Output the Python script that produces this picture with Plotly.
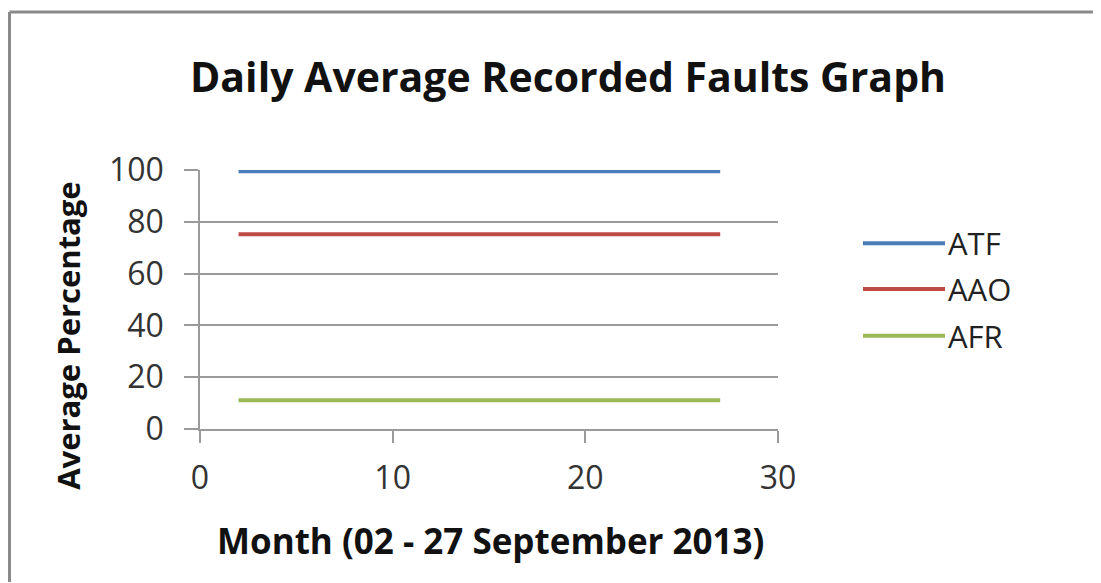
import plotly.graph_objects as go

# ---- data ----
days = [2, 27]
series_names = ["ATF", "AAO", "AFR"]
atf = [99.5, 99.5]
aao = [75.2, 75.2]
afr = [11.1, 11.1]
colors = ["#4A7EBB", "#BE4B48", "#98B954"]
x_ticks = [0, 10, 20, 30]
y_ticks = [0, 20, 40, 60, 80, 100]

# page body has an 8px margin; work in page pixels and subtract it
OX, OY = 8, 8
W, H = 1101 - OX, 583 - OY
L, R, T, B = 200 - OX, 778 - OX, 169.5 - OY, 429.5 - OY  # plot area (figure px)

fig = go.Figure()
for name, vals, c in zip(series_names, [atf, aao, afr], colors):
    fig.add_trace(go.Scatter(x=days, y=vals, mode="lines", name=name,
                             line=dict(color=c, width=4), showlegend=False))

def pxx(px):  # page px -> paper x
    return (px - OX - L) / (R - L)

def pxy(py):  # page px -> paper y
    return (B - (py - OY)) / (B - T)

shapes = []
# image frame (top and left edges)
shapes.append(dict(type="line", xref="paper", yref="paper",
                   x0=pxx(9.5), x1=pxx(1101), y0=pxy(11), y1=pxy(11),
                   line=dict(color="#8a8a8a", width=3)))
shapes.append(dict(type="line", xref="paper", yref="paper",
                   x0=pxx(9.5), x1=pxx(9.5), y0=pxy(11), y1=pxy(583),
                   line=dict(color="#8a8a8a", width=3)))

annotations = []
leg_y = [243, 289, 336]
for name, c, py in zip(series_names, colors, leg_y):
    shapes.append(dict(type="line", xref="paper", yref="paper",
                       x0=pxx(863), x1=pxx(945), y0=pxy(py), y1=pxy(py),
                       line=dict(color=c, width=4)))
    annotations.append(dict(xref="paper", yref="paper", x=pxx(946), y=pxy(py),
                            text=name, showarrow=False, xanchor="left", yanchor="middle",
                            font=dict(family="Open Sans", size=31, color="#222222")))

annotations.append(dict(xref="paper", yref="paper", x=pxx(68), y=pxy(336),
                        text="<b>Average Percentage</b>", textangle=-90, showarrow=False,
                        xanchor="center", yanchor="middle",
                        font=dict(family="Open Sans", size=31, color="#111111")))
annotations.append(dict(xref="paper", yref="paper", x=pxx(490), y=pxy(541),
                        text="<b>Month (02 - 27 September 2013)</b>", showarrow=False,
                        xanchor="center", yanchor="middle",
                        font=dict(family="Open Sans", size=35, color="#111111")))
annotations.append(dict(xref="paper", yref="paper", x=pxx(568), y=pxy(75),
                        text="<b>Daily Average Recorded Faults Graph</b>", showarrow=False,
                        xanchor="center", yanchor="middle",
                        font=dict(family="Open Sans", size=41, color="#111111")))

fig.update_layout(
    width=W, height=H,
    margin=dict(l=L, r=W - R, t=T, b=H - B, pad=0),
    paper_bgcolor="white", plot_bgcolor="white",
    shapes=shapes, annotations=annotations,
    font=dict(family="Open Sans", color="#333333"),
)
fig.update_xaxes(range=[0, 30], tickvals=x_ticks, showgrid=False, zeroline=False,
                 showline=True, linecolor="#9a9a9a", linewidth=1.5,
                 ticks="outside", ticklen=12, tickcolor="#9a9a9a", tickwidth=1.5,
                 ticklabelstandoff=8,
                 tickfont=dict(family="Open Sans", size=32, color="#333333"))
fig.update_yaxes(range=[0, 100], tickvals=y_ticks, showgrid=True, gridcolor="#9a9a9a",
                 gridwidth=1.5, zeroline=False,
                 showline=True, linecolor="#9a9a9a", linewidth=1.5,
                 ticks="outside", ticklen=14, tickcolor="#9a9a9a", tickwidth=1.5,
                 ticklabelstandoff=14,
                 tickfont=dict(family="Open Sans", size=32, color="#333333"))

fig.write_html("out.html")
